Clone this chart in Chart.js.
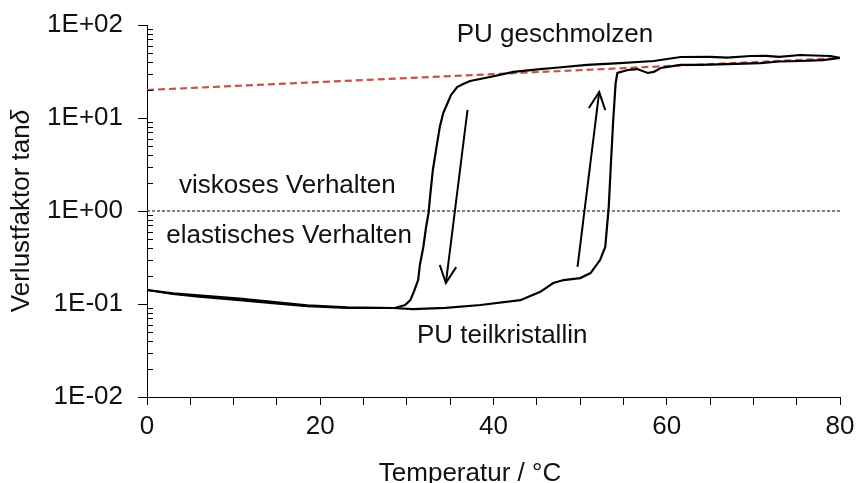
<!DOCTYPE html>
<html>
<head>
<meta charset="utf-8">
<script src="https://cdn.jsdelivr.net/npm/chart.js@4.4.1/dist/chart.umd.min.js"></script>
<style>
  html, body { margin: 0; padding: 0; background: #fff; }
</style>
</head>
<body>
<canvas id="tanDeltaChart" width="858" height="483"></canvas>
<script>
// Aufheizen (unterer Ast -> Schmelzen)
const heatT   = [0, 3.0, 6.0, 10.7, 14.5, 18.5, 23.1, 28.4, 30.7, 34.5, 38.5, 43.1, 45.4, 46.9, 48.1, 50.0, 51.2, 52.3, 52.9, 53.1, 53.3, 53.5, 53.8, 54.1, 54.3, 55.5, 56.6, 57.8, 58.5, 59.3, 61.6, 63.9, 67.0, 70.8, 73.0, 75.4, 78.0, 80];
const heatTan = [0.1415, 0.128, 0.120, 0.110, 0.102, 0.095, 0.0906, 0.0906, 0.0883, 0.091, 0.0975, 0.110, 0.135, 0.168, 0.181, 0.190, 0.215, 0.297, 0.41, 0.67, 1.10, 2.56, 8.8, 23.8, 30.5, 32.8, 33.6, 30.5, 31.3, 34.5, 37.2, 37.2, 38.0, 39.0, 40.5, 41.0, 42.0, 44.2];

// Abkuehlen (oberer Ast -> Kristallisation)
const coolT   = [80, 78.9, 77.0, 75.4, 73.0, 71.5, 69.7, 67.0, 65.0, 61.6, 58.5, 54.6, 50.8, 46.9, 45.4, 42.3, 39.6, 37.3, 36.5, 35.8, 35.1, 34.7, 34.2, 33.8, 33.4, 33.0, 32.7, 32.5, 32.2, 31.9, 31.5, 31.3, 30.8, 30.4, 29.8, 28.6, 23.1, 18.5, 10.7, 3.0, 0];
const coolTan = [44.2, 46.4, 47.0, 47.6, 45.5, 46.5, 46.4, 44.5, 45.5, 45.3, 41.0, 39.0, 37.2, 34.5, 33.6, 31.3, 27.6, 25.0, 23.2, 21.5, 17.7, 14.5, 11.3, 8.0, 4.75, 2.76, 1.49, 0.95, 0.656, 0.41, 0.263, 0.181, 0.135, 0.110, 0.0975, 0.0906, 0.092, 0.097, 0.114, 0.130, 0.1415];

// Referenzgerade (rot gestrichelt) und Grenze viskos/elastisch
const refT = [0, 80];
const refTan = [20, 44];
const limitT = [0, 80];
const limitTan = [1, 1];

// Pfeile
const arrowDownT = [37.0, 34.5];
const arrowDownTan = [12.2, 0.168];
const arrowUpT = [49.7, 52.2];
const arrowUpTan = [0.25, 19.0];

// Achsen
const yTickValues = [0.01, 0.1, 1, 10, 100];
const yTickLabels = ['1E-02', '1E-01', '1E+00', '1E+01', '1E+02'];
const xTickLabels = [0, 20, 40, 60, 80];

// Beschriftungen im Diagramm
const notes = ['PU geschmolzen', 'viskoses Verhalten', 'elastisches Verhalten', 'PU teilkristallin'];
const noteT = [47.1, 16.2, 16.4, 41.0];
const noteTan = [65.6, 1.56, 0.453, 0.0381];

const FONT = '"Liberation Sans", Arial, sans-serif';

const pts = (xs, ys) => xs.map((x, i) => ({ x: x, y: ys[i] }));

// pfeilspitzen, minor ticks, texte
const extrasPlugin = {
  id: 'extras',
  afterDatasetsDraw(chart) {
    const ctx = chart.ctx;
    chart.data.datasets.forEach((ds, i) => {
      if (!ds.arrowHead) return;
      const p = chart.getDatasetMeta(i).data;
      const a = p[p.length - 2], b = p[p.length - 1];
      const ang = Math.atan2(b.y - a.y, b.x - a.x);
      const len = 19, spread = 0.45;
      ctx.save();
      ctx.strokeStyle = '#000';
      ctx.lineWidth = 2;
      ctx.beginPath();
      ctx.moveTo(b.x - len * Math.cos(ang - spread), b.y - len * Math.sin(ang - spread));
      ctx.lineTo(b.x, b.y);
      ctx.lineTo(b.x - len * Math.cos(ang + spread), b.y - len * Math.sin(ang + spread));
      ctx.stroke();
      ctx.restore();
    });
  },
  afterDraw(chart) {
    const ctx = chart.ctx;
    const xs = chart.scales.x, ys = chart.scales.y;
    const area = chart.chartArea;
    ctx.save();
    // kleine striche der log-achse (innen)
    ctx.strokeStyle = '#000';
    ctx.lineWidth = 1;
    for (let d = 0.01; d < 100; d *= 10) {
      for (let k = 2; k <= 9; k++) {
        const y = Math.round(ys.getPixelForValue(k * d)) + 0.5;
        ctx.beginPath();
        ctx.moveTo(area.left, y);
        ctx.lineTo(area.left + 6, y);
        ctx.stroke();
      }
    }
    // texte
    ctx.fillStyle = '#111';
    ctx.font = '26px ' + FONT;
    ctx.textAlign = 'center';
    ctx.textBaseline = 'alphabetic';
    notes.forEach((t, i) => {
      ctx.fillText(t, xs.getPixelForValue(noteT[i]), ys.getPixelForValue(noteTan[i]));
    });
    // achsentitel
    ctx.fillText('Temperatur / °C', 470, 481);
    ctx.translate(22, 211);
    ctx.rotate(-Math.PI / 2);
    ctx.textBaseline = 'middle';
    ctx.textAlign = 'left';
    const t1 = 'Verlustfaktor tan', t2 = 'δ';
    ctx.font = '26px ' + FONT;
    const w1 = ctx.measureText(t1).width;
    ctx.font = 'italic 26px ' + FONT;
    const w2 = ctx.measureText(t2).width;
    const x0 = -(w1 + w2) / 2;
    ctx.font = '26px ' + FONT;
    ctx.fillText(t1, x0, 0);
    ctx.font = 'italic 26px ' + FONT;
    ctx.fillText(t2, x0 + w1, 0);
    ctx.restore();
  }
};

const lineStyle = { borderColor: '#000', borderWidth: 2.2, pointRadius: 0, tension: 0, fill: false };

new Chart(document.getElementById('tanDeltaChart').getContext('2d'), {
  type: 'line',
  data: {
    datasets: [
      Object.assign({ label: 'Aufheizen', data: pts(heatT, heatTan) }, lineStyle),
      Object.assign({ label: 'Abkühlen', data: pts(coolT, coolTan) }, lineStyle),
      { label: 'Grenze', data: pts(limitT, limitTan), borderColor: '#000', borderWidth: 1, borderDash: [3, 2], pointRadius: 0 },
      { label: 'Referenz', data: pts(refT, refTan), borderColor: '#C9504B', borderWidth: 2.2, borderDash: [7, 4], pointRadius: 0 },
      { label: 'Pfeil ab', data: pts(arrowDownT, arrowDownTan), borderColor: '#000', borderWidth: 2, pointRadius: 0, arrowHead: true },
      { label: 'Pfeil auf', data: pts(arrowUpT, arrowUpTan), borderColor: '#000', borderWidth: 2, pointRadius: 0, arrowHead: true }
    ]
  },
  options: {
    responsive: false,
    animation: false,
    devicePixelRatio: 1,
    layout: { autoPadding: false, padding: { top: 25, right: 18, left: 0, bottom: 0 } },
    plugins: { legend: { display: false }, tooltip: { enabled: false } },
    scales: {
      x: {
        type: 'linear',
        min: 0,
        max: 80,
        afterFit: s => { s.height = 86; s.paddingLeft = 0; s.paddingRight = 0; },
        border: { display: true, color: '#000', width: 1 },
        grid: { display: true, drawOnChartArea: false, tickLength: 8, color: '#000' },
        ticks: {
          stepSize: 5,
          autoSkip: false,
          maxRotation: 0,
          padding: 6,
          color: '#111',
          font: { family: FONT, size: 26 },
          callback: v => (xTickLabels.includes(v) ? String(v) : '')
        }
      },
      y: {
        type: 'logarithmic',
        min: 0.01,
        max: 100,
        afterFit: s => { s.width = 147; s.paddingTop = 0; s.paddingBottom = 0; },
        afterBuildTicks: s => { s.ticks = yTickValues.map(v => ({ value: v })); },
        border: { display: true, color: '#000', width: 1 },
        grid: { display: true, drawOnChartArea: false, tickLength: 9, color: '#000' },
        ticks: {
          autoSkip: false,
          padding: 15,
          color: '#111',
          font: { family: FONT, size: 26 },
          callback: v => {
            const i = yTickValues.findIndex(t => Math.abs(t - v) / t < 1e-6);
            return i >= 0 ? yTickLabels[i] : '';
          }
        }
      }
    }
  },
  plugins: [extrasPlugin]
});
</script>
</body>
</html>
